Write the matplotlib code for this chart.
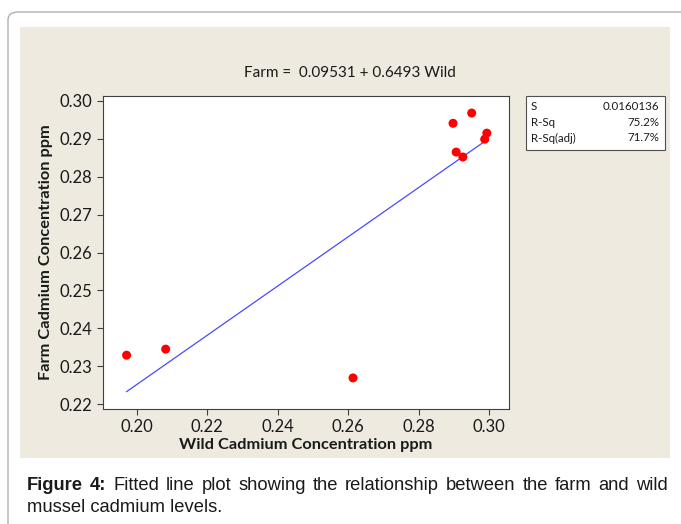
import matplotlib
matplotlib.use("Agg")
import matplotlib.pyplot as plt
from matplotlib.patches import Rectangle, FancyBboxPatch
import numpy as np

# ---- data ----
wild = [0.1971, 0.2082, 0.2614, 0.2898, 0.2951, 0.2907, 0.2926, 0.2994, 0.2988]
farm = [0.2329, 0.2345, 0.2269, 0.2941, 0.2968, 0.2865, 0.2852, 0.2915, 0.2899]
intercept = 0.09531
slope = 0.6493
stat_names = ["S", "R-Sq", "R-Sq(adj)"]
stat_values = ["0.0160136", "75.2%", "71.7%"]
x_ticks = [0.20, 0.22, 0.24, 0.26, 0.28, 0.30]
y_ticks = [0.22, 0.23, 0.24, 0.25, 0.26, 0.27, 0.28, 0.29, 0.30]

W, H = 681, 524
fig = plt.figure(figsize=(W / 100, H / 100), dpi=100)
fig.patch.set_facecolor("white")

def fx(px):
    return px / W

def fy(py):
    return 1 - py / H

# outer rounded frame
frame = FancyBboxPatch((fx(8), fy(560)), fx(720), 548 / H,
                       boxstyle="round,pad=0,rounding_size=0.015",
                       transform=fig.transFigure, facecolor="none",
                       edgecolor="#b0b0b0", linewidth=1.0, zorder=-2)
fig.patches.append(frame)

# beige panel
bg = Rectangle((fx(20), fy(458)), fx(650), (458 - 27) / H,
               transform=fig.transFigure, facecolor="#EEEAE0", edgecolor="none", zorder=-1)
fig.patches.append(bg)

chart_font = "Lato"

ax = fig.add_axes([fx(103), fy(409), fx(406), (409 - 96) / H])
ax.set_zorder(1)
ax.set_facecolor("white")
ax.scatter(wild, farm, s=42, color="#ff0000", zorder=3, edgecolors="none")
xl = np.array([min(wild), max(wild)])
ax.plot(xl, intercept + slope * xl, color="#4a4aff", linewidth=0.9, zorder=2)

ax.set_xlim(0.1904, 0.3057)
ax.set_ylim(0.2187, 0.3013)
ax.set_xticks(x_ticks)
ax.set_yticks(y_ticks)
ax.set_xticklabels([f"{v:.2f}" for v in x_ticks], fontfamily=chart_font, fontsize=12)
ax.set_yticklabels([f"{v:.2f}" for v in y_ticks], fontfamily=chart_font, fontsize=12)
ax.tick_params(direction="out", length=4.5, width=0.8, color="#404040", labelcolor="#1a1a1a", pad=3)
for sp in ax.spines.values():
    sp.set_color("#404040")
    sp.set_linewidth(0.8)

ax.set_xlabel("Wild Cadmium Concentration ppm", fontfamily=chart_font,
              fontweight="bold", fontsize=11.8, labelpad=2, color="#1a1a1a")
ax.set_ylabel("Farm Cadmium Concentration ppm", fontfamily=chart_font,
              fontweight="bold", fontsize=11.8, labelpad=5, color="#1a1a1a")

fig.text(fx(350), fy(73), "Farm =  0.09531 + 0.6493 Wild", ha="center", va="center",
         fontfamily=chart_font, fontsize=11, color="#1a1a1a")

# stats box
sb = Rectangle((fx(526), fy(150)), fx(139), (150 - 96) / H, transform=fig.transFigure,
               facecolor="white", edgecolor="#505050", linewidth=0.8, zorder=2)
fig.patches.append(sb)
for i, (n, v) in enumerate(zip(stat_names, stat_values)):
    yy = fy(106 + i * 16)
    fig.text(fx(531), yy, n, ha="left", va="center", fontfamily=chart_font, fontsize=8.3, color="#1a1a1a", zorder=3)
    fig.text(fx(659), yy, v, ha="right", va="center", fontfamily=chart_font, fontsize=8.3, color="#1a1a1a", zorder=3)

# caption (justified first line)
renderer = fig.canvas.get_renderer()
cap_font = "Liberation Sans"
cap_size = 13.2
cap_left, cap_right = 27, 668
words = [("Figure", "bold"), ("4:", "bold")] + [
    (w, "normal") for w in
    "Fitted line plot showing the relationship between the farm and wild".split()]
texts = []
total = 0.0
for w, wt in words:
    t = fig.text(0, fy(485), w, ha="left", va="center", fontfamily=cap_font,
                 fontweight=wt, fontsize=cap_size, color="#1a1a1a")
    wpx = t.get_window_extent(renderer).width
    texts.append((t, wpx))
    total += wpx
gap = (cap_right - cap_left - total) / (len(words) - 1)
xpos = cap_left
for t, wpx in texts:
    t.set_x(fx(xpos))
    xpos += wpx + gap
fig.text(fx(cap_left), fy(508), "mussel cadmium levels.", ha="left", va="center",
         fontfamily=cap_font, fontsize=cap_size, color="#1a1a1a")

fig.savefig("out.png", dpi=100)
